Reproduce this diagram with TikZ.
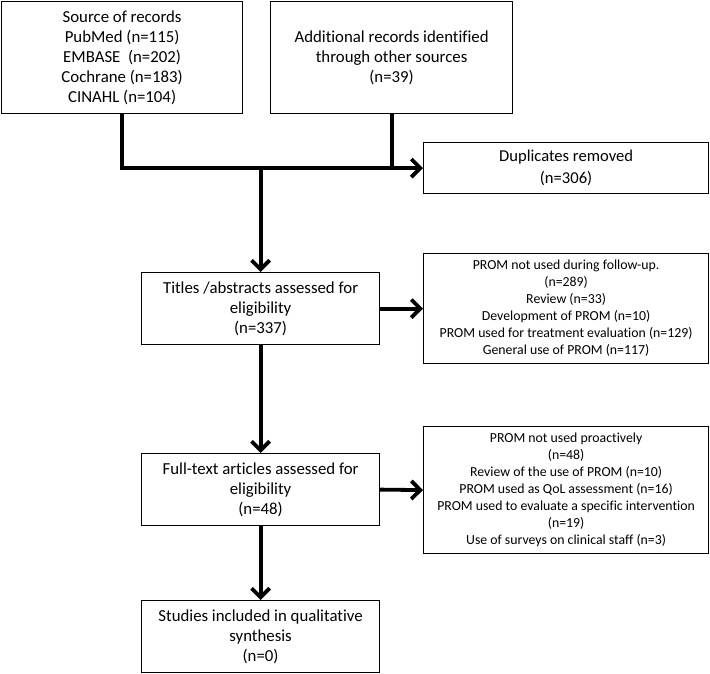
\documentclass[tikz,border=0pt]{standalone}
\usepackage{fontspec}
\setmainfont[Ligatures=NoCommon]{Carlito}
\usetikzlibrary{arrows.meta}
\begin{document}
\begin{tikzpicture}[x=1pt,y=-1pt,
  box/.style={draw=black,line width=1.2pt,align=center,inner sep=0pt,anchor=north west,
    font=\fontsize{16.8}{20}\selectfont},
  exbox/.style={box,font=\fontsize{13.8}{17}\selectfont},
  dupbox/.style={box,font=\fontsize{16.6}{21.5}\selectfont},
  conn/.style={line width=3.8pt,black},
  arr/.style={conn,-{Straight Barb[length=9pt 0,width=18pt 0,line width=3.8pt]}}]
\useasboundingbox (0,0) rectangle (710,673);
\node[box,minimum width=241pt,minimum height=112.5pt] (src) at (1,0.6)
  {Source of records\\PubMed (n=115)\\EMBASE\ \ (n=202)\\Cochrane (n=183)\\CINAHL (n=104)};
\node[box,minimum width=242pt,minimum height=112.5pt] (add) at (270,0.6)
  {Additional records identified\\through other sources\\(n=39)};
\node[dupbox,minimum width=285pt,minimum height=51pt] (dup) at (423,142)
  {Duplicates removed\\(n=306)};
\node[box,minimum width=238pt,minimum height=72pt] (tit) at (141,272)
  {Titles /abstracts assessed for\\eligibility\\(n=337)};
\node[exbox,minimum width=285pt,minimum height=110pt] (ex1) at (423,253)
  {PROM not used during follow-up.\\(n=289)\\Review (n=33)\\Development of PROM (n=10)\\PROM used for treatment evaluation (n=129)\\General use of PROM (n=117)};
\node[box,minimum width=238pt,minimum height=72pt] (full) at (141,453)
  {Full-text articles assessed for\\eligibility\\(n=48)};
\node[exbox,minimum width=285pt,minimum height=127pt] (ex2) at (423,426)
  {PROM not used proactively\\(n=48)\\Review of the use of PROM (n=10)\\PROM used as QoL assessment (n=16)\\PROM used to evaluate a specific intervention\\(n=19)\\Use of surveys on clinical staff (n=3)};
\node[box,minimum width=238pt,minimum height=72pt] (stud) at (141,600)
  {Studies included in qualitative\\synthesis\\(n=0)};
\coordinate (jl) at (src.south |- dup.west);
\coordinate (jr) at (add.south |- dup.west);
\coordinate (jc) at (tit.north |- dup.west);
\draw[conn] (src.south) -- (jl);
\draw[conn] (add.south) -- (jr);
\draw[arr] ([xshift=-1.9pt]jl) -- (dup.west);
\draw[arr] (jc) -- (tit.north);
\draw[arr] (tit.east) -- (ex1.west);
\draw[arr] (tit.south) -- (full.north);
\draw[arr] (full.east) -- (ex2.west);
\draw[arr] (full.south) -- (stud.north);
\end{tikzpicture}
\end{document}
